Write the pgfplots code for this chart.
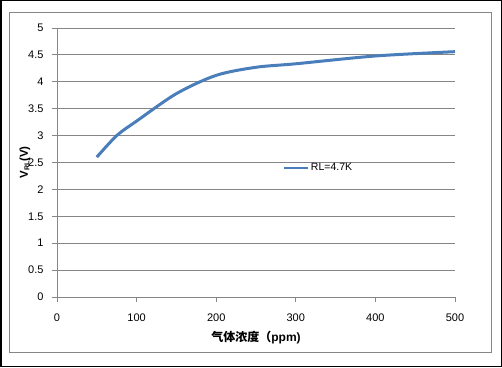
\documentclass[border=0pt]{standalone}
\usepackage{pgfplots}
\pgfplotsset{compat=1.18}
\usepackage{fontspec}
\setmainfont{Liberation Sans}
\newfontfamily\cjk{Noto Sans CJK SC}
\definecolor{ser}{RGB}{74,126,187}
\definecolor{gridc}{RGB}{134,134,134}
\begin{document}
\begin{tikzpicture}
\useasboundingbox (0pt,0pt) rectangle (502pt,367pt);
\draw[black, line width=1.5pt] (0.75pt,0.75pt) rectangle (501.25pt,366.25pt);
\draw[gridc, line width=1pt] (9.5pt,15pt) rectangle (491pt,354pt);
\begin{axis}[
  at={(57pt,70pt)}, anchor=origin, scale only axis,
  width=398pt, height=269pt,
  xmin=0, xmax=500, ymin=0, ymax=5,
  xtick={0,100,...,500}, ytick={0,0.5,...,5},
  axis x line*=bottom, axis y line*=left,
  ymajorgrids, grid style={gridc, line width=0.9pt},
  axis line style={gridc, line width=0.9pt},
  tick style={gridc, line width=0.9pt},
  major tick length=5pt, tick align=outside,
  ticklabel style={font=\fontsize{11}{13}\selectfont, text=black},
  /pgf/number format/assume math mode=true,
  xticklabel style={yshift=-8pt},
  yticklabel style={xshift=-5pt},
  ylabel={\bfseries V\raisebox{-1.5pt}{\fontsize{7}{8}\selectfont\bfseries RL}(V)},
  ylabel style={at={(axis description cs:-0.0804,0.5)}, anchor=center, font=\fontsize{11.5}{13}\selectfont\bfseries},
  xlabel={\textbf{{\cjk\bfseries 气体浓度（}ppm)}},
  xlabel style={at={(axis description cs:0.5,-0.152)}, anchor=center, font=\fontsize{12}{14}\selectfont},
  legend style={at={(axis cs:283,2.4)}, anchor=west, draw=none, fill=none, font=\fontsize{10.5}{12}\selectfont, inner sep=0pt},
  legend cell align=left,
  legend image code/.code={\draw[#1, line width=2.5pt] (0pt,0pt) -- (24pt,0pt);},
]
\addplot[ser, line width=3pt, smooth, tension=0.5] coordinates {
 (50,2.60) (75,3.00) (100,3.27) (150,3.78) (200,4.12) (250,4.27) (300,4.335) (400,4.48) (500,4.56)
};
\addlegendentry{RL=4.7K}
\end{axis}
\end{tikzpicture}
\end{document}
